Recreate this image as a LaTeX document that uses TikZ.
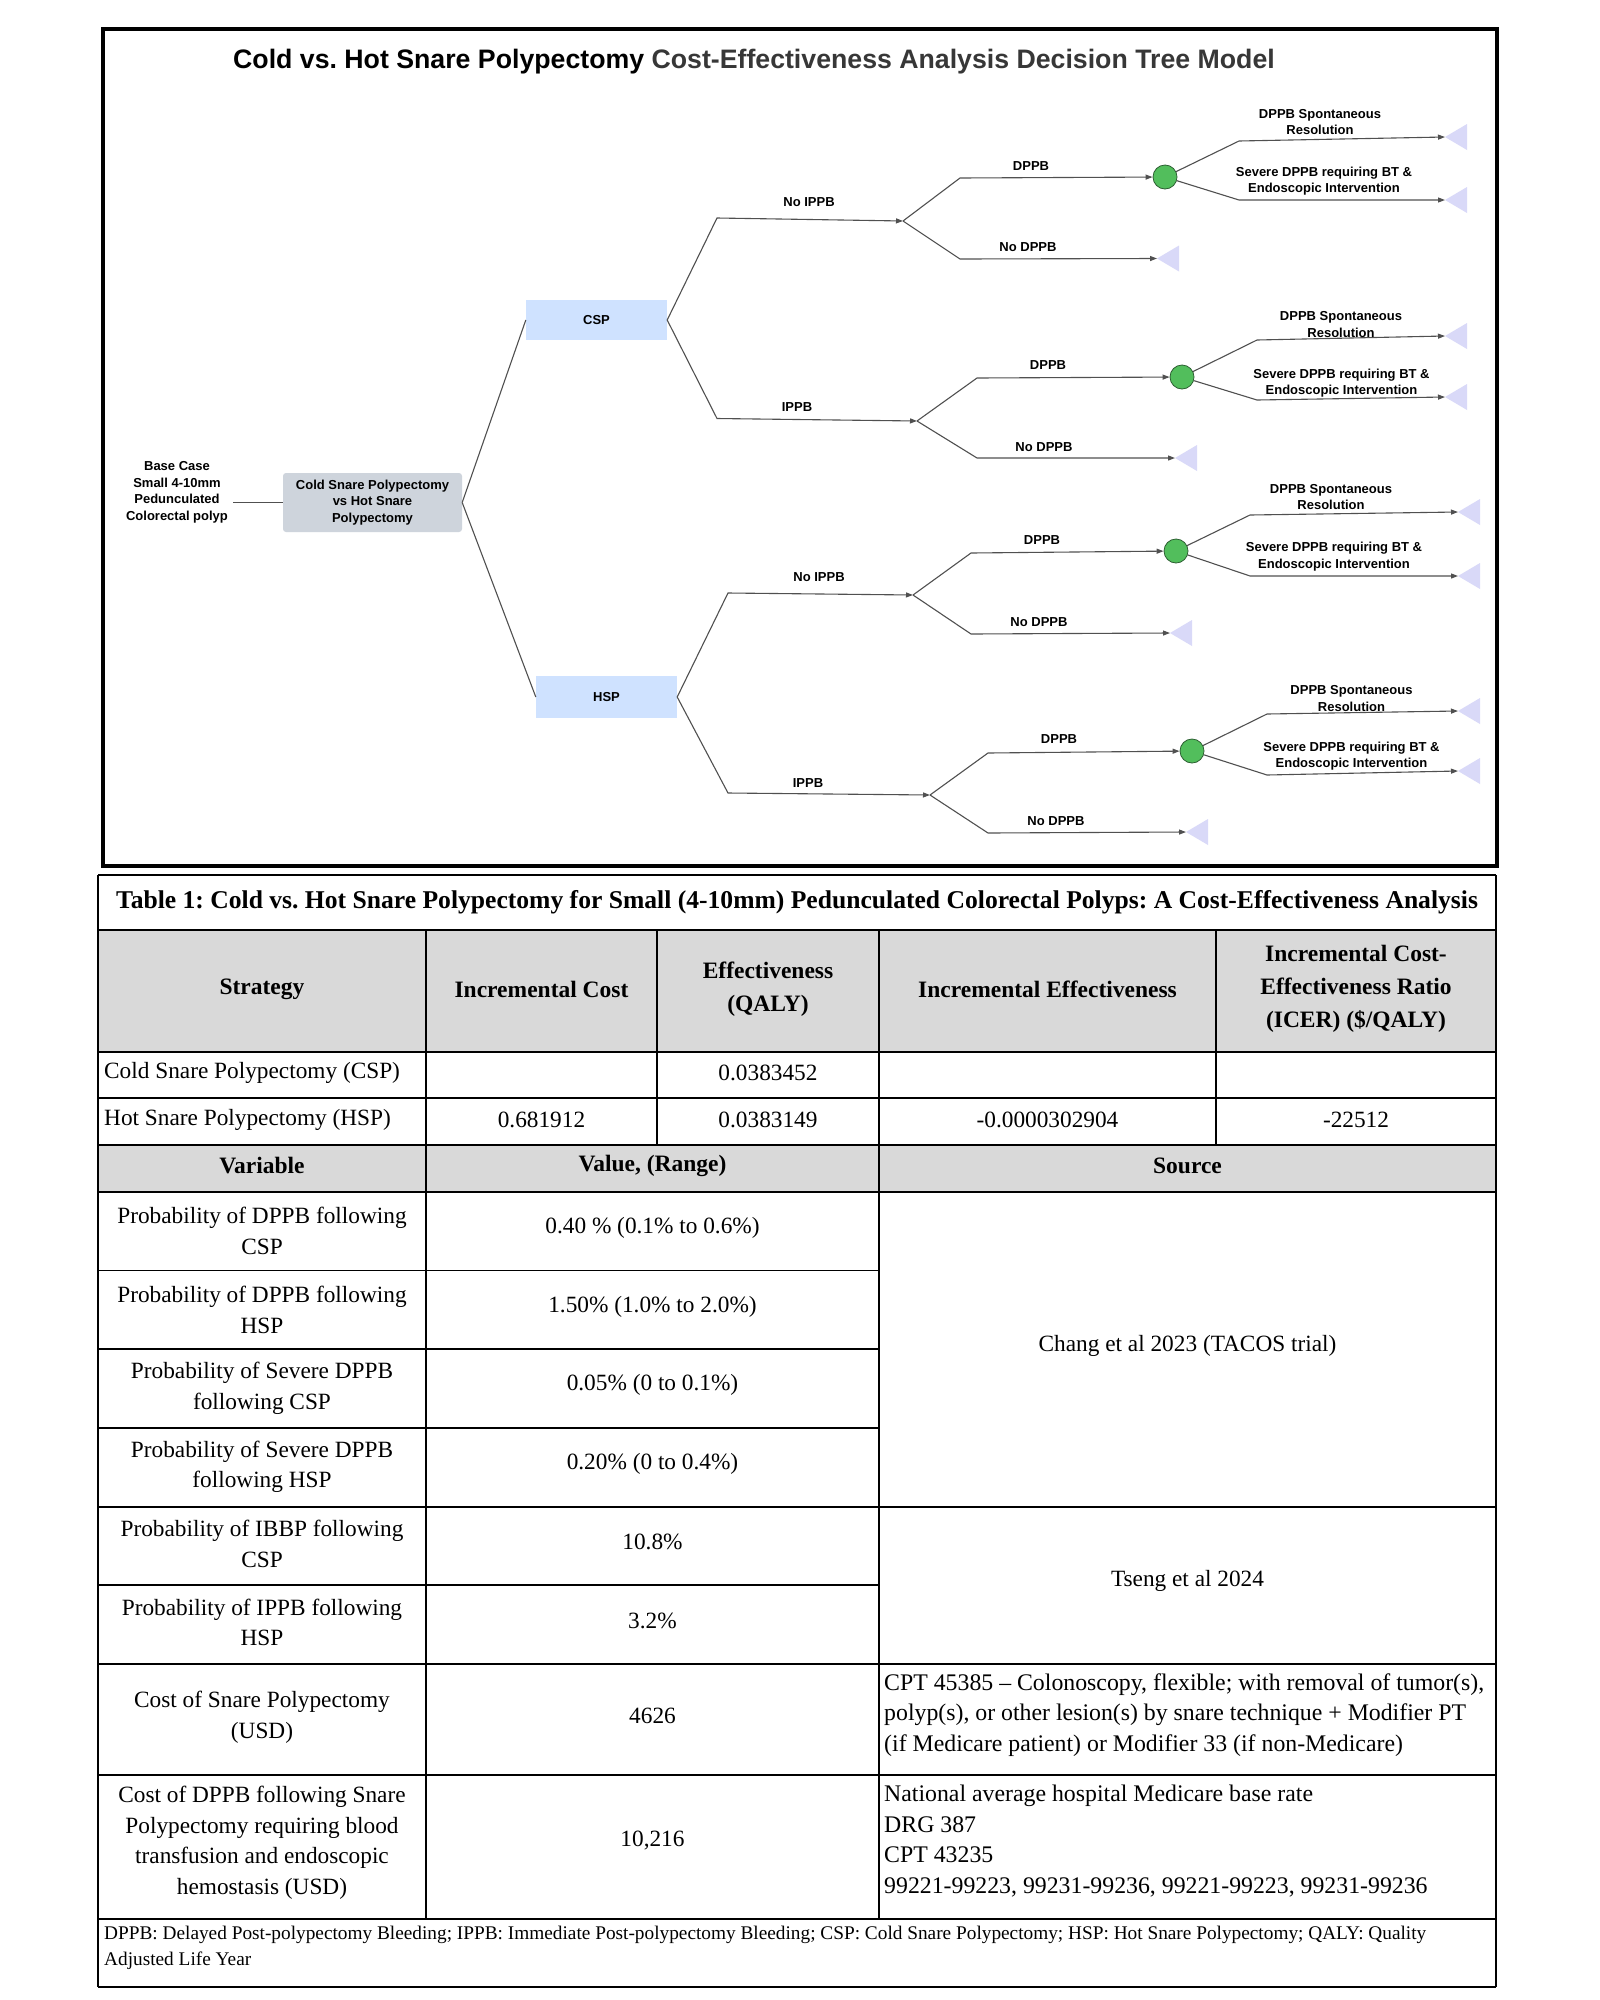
\documentclass[tikz,border=0pt]{standalone}
\usepackage{fontspec}
\setmainfont{Liberation Serif}
\newfontfamily\arialf{Liberation Sans}
\usetikzlibrary{arrows.meta}
\frenchspacing
\definecolor{linkc}{RGB}{80,80,80}
\definecolor{trifill}{RGB}{217,217,248}
\definecolor{chg}{RGB}{82,190,92}
\definecolor{chd}{RGB}{45,95,50}
\definecolor{rootg}{RGB}{206,212,220}
\definecolor{cspb}{RGB}{207,226,255}
\definecolor{titleg}{RGB}{55,55,55}
\definecolor{hdrg}{RGB}{217,217,217}
\newcommand{\termtri}[1]{\fill[trifill] (#1) -- ++(22,-13) -- ++(0,26) -- cycle;}
\tikzset{
  lbl/.style={font=\arialf\bfseries\fontsize{13}{16.5}\selectfont, align=center, inner sep=0pt},
  box/.style={lbl, inner sep=2pt},
  link/.style={draw=linkc, line width=1.1pt},
  arr/.style={link, -{Triangle[length=7pt,width=5pt]}},
  chance/.style={circle, fill=chg, draw=chd, line width=0.8pt, minimum size=24pt, inner sep=0pt},
  tb/.style={font=\fontsize{23.3}{30.5}\selectfont, align=center, inner sep=0pt},
  tbh/.style={font=\bfseries\fontsize{23.5}{33}\selectfont, align=center, inner sep=0pt},
  tbl/.style={font=\fontsize{23.3}{30.5}\selectfont, align=left, inner sep=0pt, anchor=west},
  rule/.style={line width=1.6pt, draw=black}
}
\begin{document}
\begin{tikzpicture}[x=1pt,y=-1pt]
\useasboundingbox (0,0) rectangle (1600,2000);
\fill[white] (0,0) rectangle (1600,2000);

% ---------------- decision tree ----------------
\draw[line width=4pt] (103,29) rectangle (1497,866);
\node[font=\arialf\bfseries\fontsize{26.7}{30}\selectfont, inner sep=0pt] (title) at (754,62)
  {Cold vs. Hot Snare Polypectomy \textcolor{titleg}{Cost-Effectiveness Analysis Decision Tree Model}};

\node[lbl] (base) at (177,492.5) {Base Case\\Small 4-10mm\\Pedunculated\\Colorectal polyp};
\node[box, fill=rootg, minimum width=179pt, minimum height=59pt, rounded corners=3pt] (root) at (372.5,502.5)
  {Cold Snare Polypectomy\\vs Hot Snare\\Polypectomy};
\node[box, fill=cspb, minimum width=141pt, minimum height=40pt] (csp) at (596.5,320) {CSP};
\node[box, fill=cspb, minimum width=141pt, minimum height=42pt] (hsp) at (606.5,697) {HSP};

\draw[link, shorten <=5pt] (base.east |- root.west) -- (root.west);
\draw[link] (root.east) -- (csp.west);
\draw[link] (root.east) -- (hsp.west);

% top-level branches
\coordinate (a1) at (717,218);   \coordinate (n1) at (903,221);
\coordinate (a2) at (717,418.5); \coordinate (n2) at (917,421);
\coordinate (a3) at (728,593);   \coordinate (n3) at (913,595);
\coordinate (a4) at (728,793);   \coordinate (n4) at (930,795);
\draw[arr] (csp.east) -- (a1) -- (n1);
\draw[arr] (csp.east) -- (a2) -- (n2);
\draw[arr] (hsp.east) -- (a3) -- (n3);
\draw[arr] (hsp.east) -- (a4) -- (n4);
\node[lbl] (l1) at (809,202) {No IPPB};
\node[lbl] (l2) at (797,407) {IPPB};
\node[lbl] (l3) at (819,577) {No IPPB};
\node[lbl] (l4) at (808,783) {IPPB};

% ---- group 1
\node[chance] (c1) at (1165,177) {};
\coordinate (g1eu) at (960,178); \coordinate (g1ed) at (960,259);
\coordinate (g1tn) at (1157,258.5);
\coordinate (g1cu) at (1239,141); \coordinate (g1tu) at (1445,137);
\coordinate (g1cd) at (1239,200); \coordinate (g1td) at (1445,200);
\termtri{g1tn} \termtri{g1tu} \termtri{g1td}
\draw[arr] (n1) -- (g1eu) -- (c1);
\draw[arr] (n1) -- (g1ed) -- (g1tn);
\draw[arr] (c1) -- (g1cu) -- (g1tu);
\draw[arr] (c1) -- (g1cd) -- (g1td);
\node[lbl] (g1l1) at (1031,166) {DPPB};
\node[lbl] (g1l2) at (1028,247) {No DPPB};
\node[lbl] (g1l3) at (1320,122) {DPPB Spontaneous\\Resolution};
\node[lbl] (g1l4) at (1324,181) {Severe DPPB requiring BT \&\\Endoscopic Intervention};

% ---- group 2
\node[chance] (c2) at (1182,377) {};
\coordinate (g2eu) at (977,378); \coordinate (g2ed) at (977,458);
\coordinate (g2tn) at (1175,458);
\coordinate (g2cu) at (1257,340); \coordinate (g2tu) at (1445,336);
\coordinate (g2cd) at (1257,400); \coordinate (g2td) at (1445,397);
\termtri{g2tn} \termtri{g2tu} \termtri{g2td}
\draw[arr] (n2) -- (g2eu) -- (c2);
\draw[arr] (n2) -- (g2ed) -- (g2tn);
\draw[arr] (c2) -- (g2cu) -- (g2tu);
\draw[arr] (c2) -- (g2cd) -- (g2td);
\node[lbl] (g2l1) at (1048,365) {DPPB};
\node[lbl] (g2l2) at (1044,447) {No DPPB};
\node[lbl] (g2l3) at (1341,324.5) {DPPB Spontaneous\\Resolution};
\node[lbl] (g2l4) at (1341.5,383) {Severe DPPB requiring BT \&\\Endoscopic Intervention};

% ---- group 3
\node[chance] (c3) at (1176,551) {};
\coordinate (g3eu) at (971,553); \coordinate (g3ed) at (971,634);
\coordinate (g3tn) at (1170,633);
\coordinate (g3cu) at (1250,515); \coordinate (g3tu) at (1458,512);
\coordinate (g3cd) at (1250,576); \coordinate (g3td) at (1458,576);
\termtri{g3tn} \termtri{g3tu} \termtri{g3td}
\draw[arr] (n3) -- (g3eu) -- (c3);
\draw[arr] (n3) -- (g3ed) -- (g3tn);
\draw[arr] (c3) -- (g3cu) -- (g3tu);
\draw[arr] (c3) -- (g3cd) -- (g3td);
\node[lbl] (g3l1) at (1042,540) {DPPB};
\node[lbl] (g3l2) at (1039,622) {No DPPB};
\node[lbl] (g3l3) at (1331,497) {DPPB Spontaneous\\Resolution};
\node[lbl] (g3l4) at (1334,556.5) {Severe DPPB requiring BT \&\\Endoscopic Intervention};

% ---- group 4
\node[chance] (c4) at (1192,751) {};
\coordinate (g4eu) at (988,753); \coordinate (g4ed) at (988,833);
\coordinate (g4tn) at (1186,832);
\coordinate (g4cu) at (1267,714); \coordinate (g4tu) at (1458,711);
\coordinate (g4cd) at (1267,775); \coordinate (g4td) at (1458,771);
\termtri{g4tn} \termtri{g4tu} \termtri{g4td}
\draw[arr] (n4) -- (g4eu) -- (c4);
\draw[arr] (n4) -- (g4ed) -- (g4tn);
\draw[arr] (c4) -- (g4cu) -- (g4tu);
\draw[arr] (c4) -- (g4cd) -- (g4td);
\node[lbl] (g4l1) at (1059,739) {DPPB};
\node[lbl] (g4l2) at (1056,821) {No DPPB};
\node[lbl] (g4l3) at (1351.5,698.7) {DPPB Spontaneous\\Resolution};
\node[lbl] (g4l4) at (1351.5,756) {Severe DPPB requiring BT \&\\Endoscopic Intervention};

% ---------------- table ----------------
\fill[hdrg] (98,930) rectangle (1496,1052);
\fill[hdrg] (98,1145) rectangle (1496,1192);
% horizontal rules
\foreach \yy in {875,930,1052,1098,1145,1192,1507,1664,1775,1919,1987}
  \draw[rule] (98,\yy) -- (1496,\yy);
\foreach \yy in {1270.5,1349,1428,1585}
  \draw[rule] (98,\yy) -- (879,\yy);
% vertical rules
\draw[rule] (98,875) -- (98,1987);
\draw[rule] (1496,875) -- (1496,1987);
\foreach \xx in {426,657,879,1216}
  \draw[rule] (\xx,930) -- (\xx,1145);
\foreach \xx in {426,879}
  \draw[rule] (\xx,1145) -- (\xx,1919);

\node[font=\bfseries\fontsize{25.6}{30}\selectfont, inner sep=0pt] (ttitle) at (797,902) {Table 1: Cold vs. Hot Snare Polypectomy for Small (4-10mm) Pedunculated Colorectal Polyps: A Cost-Effectiveness Analysis};

\node[tbh] (h1) at (262,989) {Strategy};
\node[tbh] (h2) at (541.5,989) {Incremental Cost};
\node[tbh] (h3) at (768,989) {Effectiveness\\(QALY)};
\node[tbh] (h4) at (1047.5,989) {Incremental Effectiveness};
\node[tbh] (h5) at (1356,989) {Incremental Cost-\\Effectiveness Ratio\\(ICER) (\$/QALY)};

\node[tbl] (s1) at (104,1073) {Cold Snare Polypectomy (CSP)};
\node[tb] (s1c) at (768,1073) {0.0383452};
\node[tbl] (s2) at (104,1119.5) {Hot Snare Polypectomy (HSP)};
\node[tb] (s2b) at (541.5,1119.5) {0.681912};
\node[tb] (s2c) at (768,1119.5) {0.0383149};
\node[tb] (s2d) at (1047.5,1119.5) {-0.0000302904};
\node[tb] (s2e) at (1356,1119.5) {-22512};

\node[tbh] (v1) at (262,1166) {Variable};
\node[tbh] (v2) at (652.5,1166) {Value, (Range)};
\node[tbh] (v3) at (1187.5,1166) {Source};

\node[tb] (r1a) at (262,1231) {Probability of DPPB following\\CSP};
\node[tb] (r1b) at (652.5,1228) {0.40 \% (0.1\% to 0.6\%)};
\node[tb] (r2a) at (262,1310) {Probability of DPPB following\\HSP};
\node[tb] (r2b) at (652.5,1307) {1.50\% (1.0\% to 2.0\%)};
\node[tb] (r3a) at (262,1388.5) {Probability of Severe DPPB\\following CSP};
\node[tb] (r3b) at (652.5,1385) {0.05\% (0 to 0.1\%)};
\node[tb] (r4a) at (262,1467) {Probability of Severe DPPB\\following HSP};
\node[tb] (r4b) at (652.5,1464) {0.20\% (0 to 0.4\%)};
\node[tb] (r5a) at (262,1544) {Probability of IBBP following\\CSP};
\node[tb] (r5b) at (652.5,1542) {10.8\%};
\node[tb] (r6a) at (262,1622.5) {Probability of IPPB following\\HSP};
\node[tb] (r6b) at (652.5,1621) {3.2\%};
\node[tb] (r7a) at (262,1717.5) {Cost of Snare Polypectomy\\(USD)};
\node[tb] (r7b) at (652.5,1716) {4626};
\node[tb] (r8a) at (262,1843) {Cost of DPPB following Snare\\Polypectomy requiring blood\\transfusion and endoscopic\\hemostasis (USD)};
\node[tb] (r8b) at (652.5,1841) {10,216};

\node[tb] (src1) at (1187.5,1346) {Chang et al 2023 (TACOS trial)};
\node[tb] (src2) at (1187.5,1581) {Tseng et al 2024};
\node[tbl, font=\fontsize{23.8}{30.5}\selectfont] (src3) at (884,1715) {CPT 45385 -- Colonoscopy, flexible; with removal of tumor(s),\\polyp(s), or other lesion(s) by snare technique + Modifier PT\\(if Medicare patient) or Modifier 33 (if non-Medicare)};
\node[tbl, font=\fontsize{23.8}{30.5}\selectfont] (src4) at (884,1841) {National average hospital Medicare base rate\\DRG 387\\CPT 43235\\99221-99223, 99231-99236, 99221-99223, 99231-99236};

\node[font=\fontsize{19.3}{25.5}\selectfont, align=left, inner sep=0pt, anchor=west] (foot) at (104,1948)
  {DPPB: Delayed Post-polypectomy Bleeding; IPPB: Immediate Post-polypectomy Bleeding; CSP: Cold Snare Polypectomy; HSP: Hot Snare Polypectomy; QALY: Quality\\Adjusted Life Year};
\end{tikzpicture}
\end{document}
